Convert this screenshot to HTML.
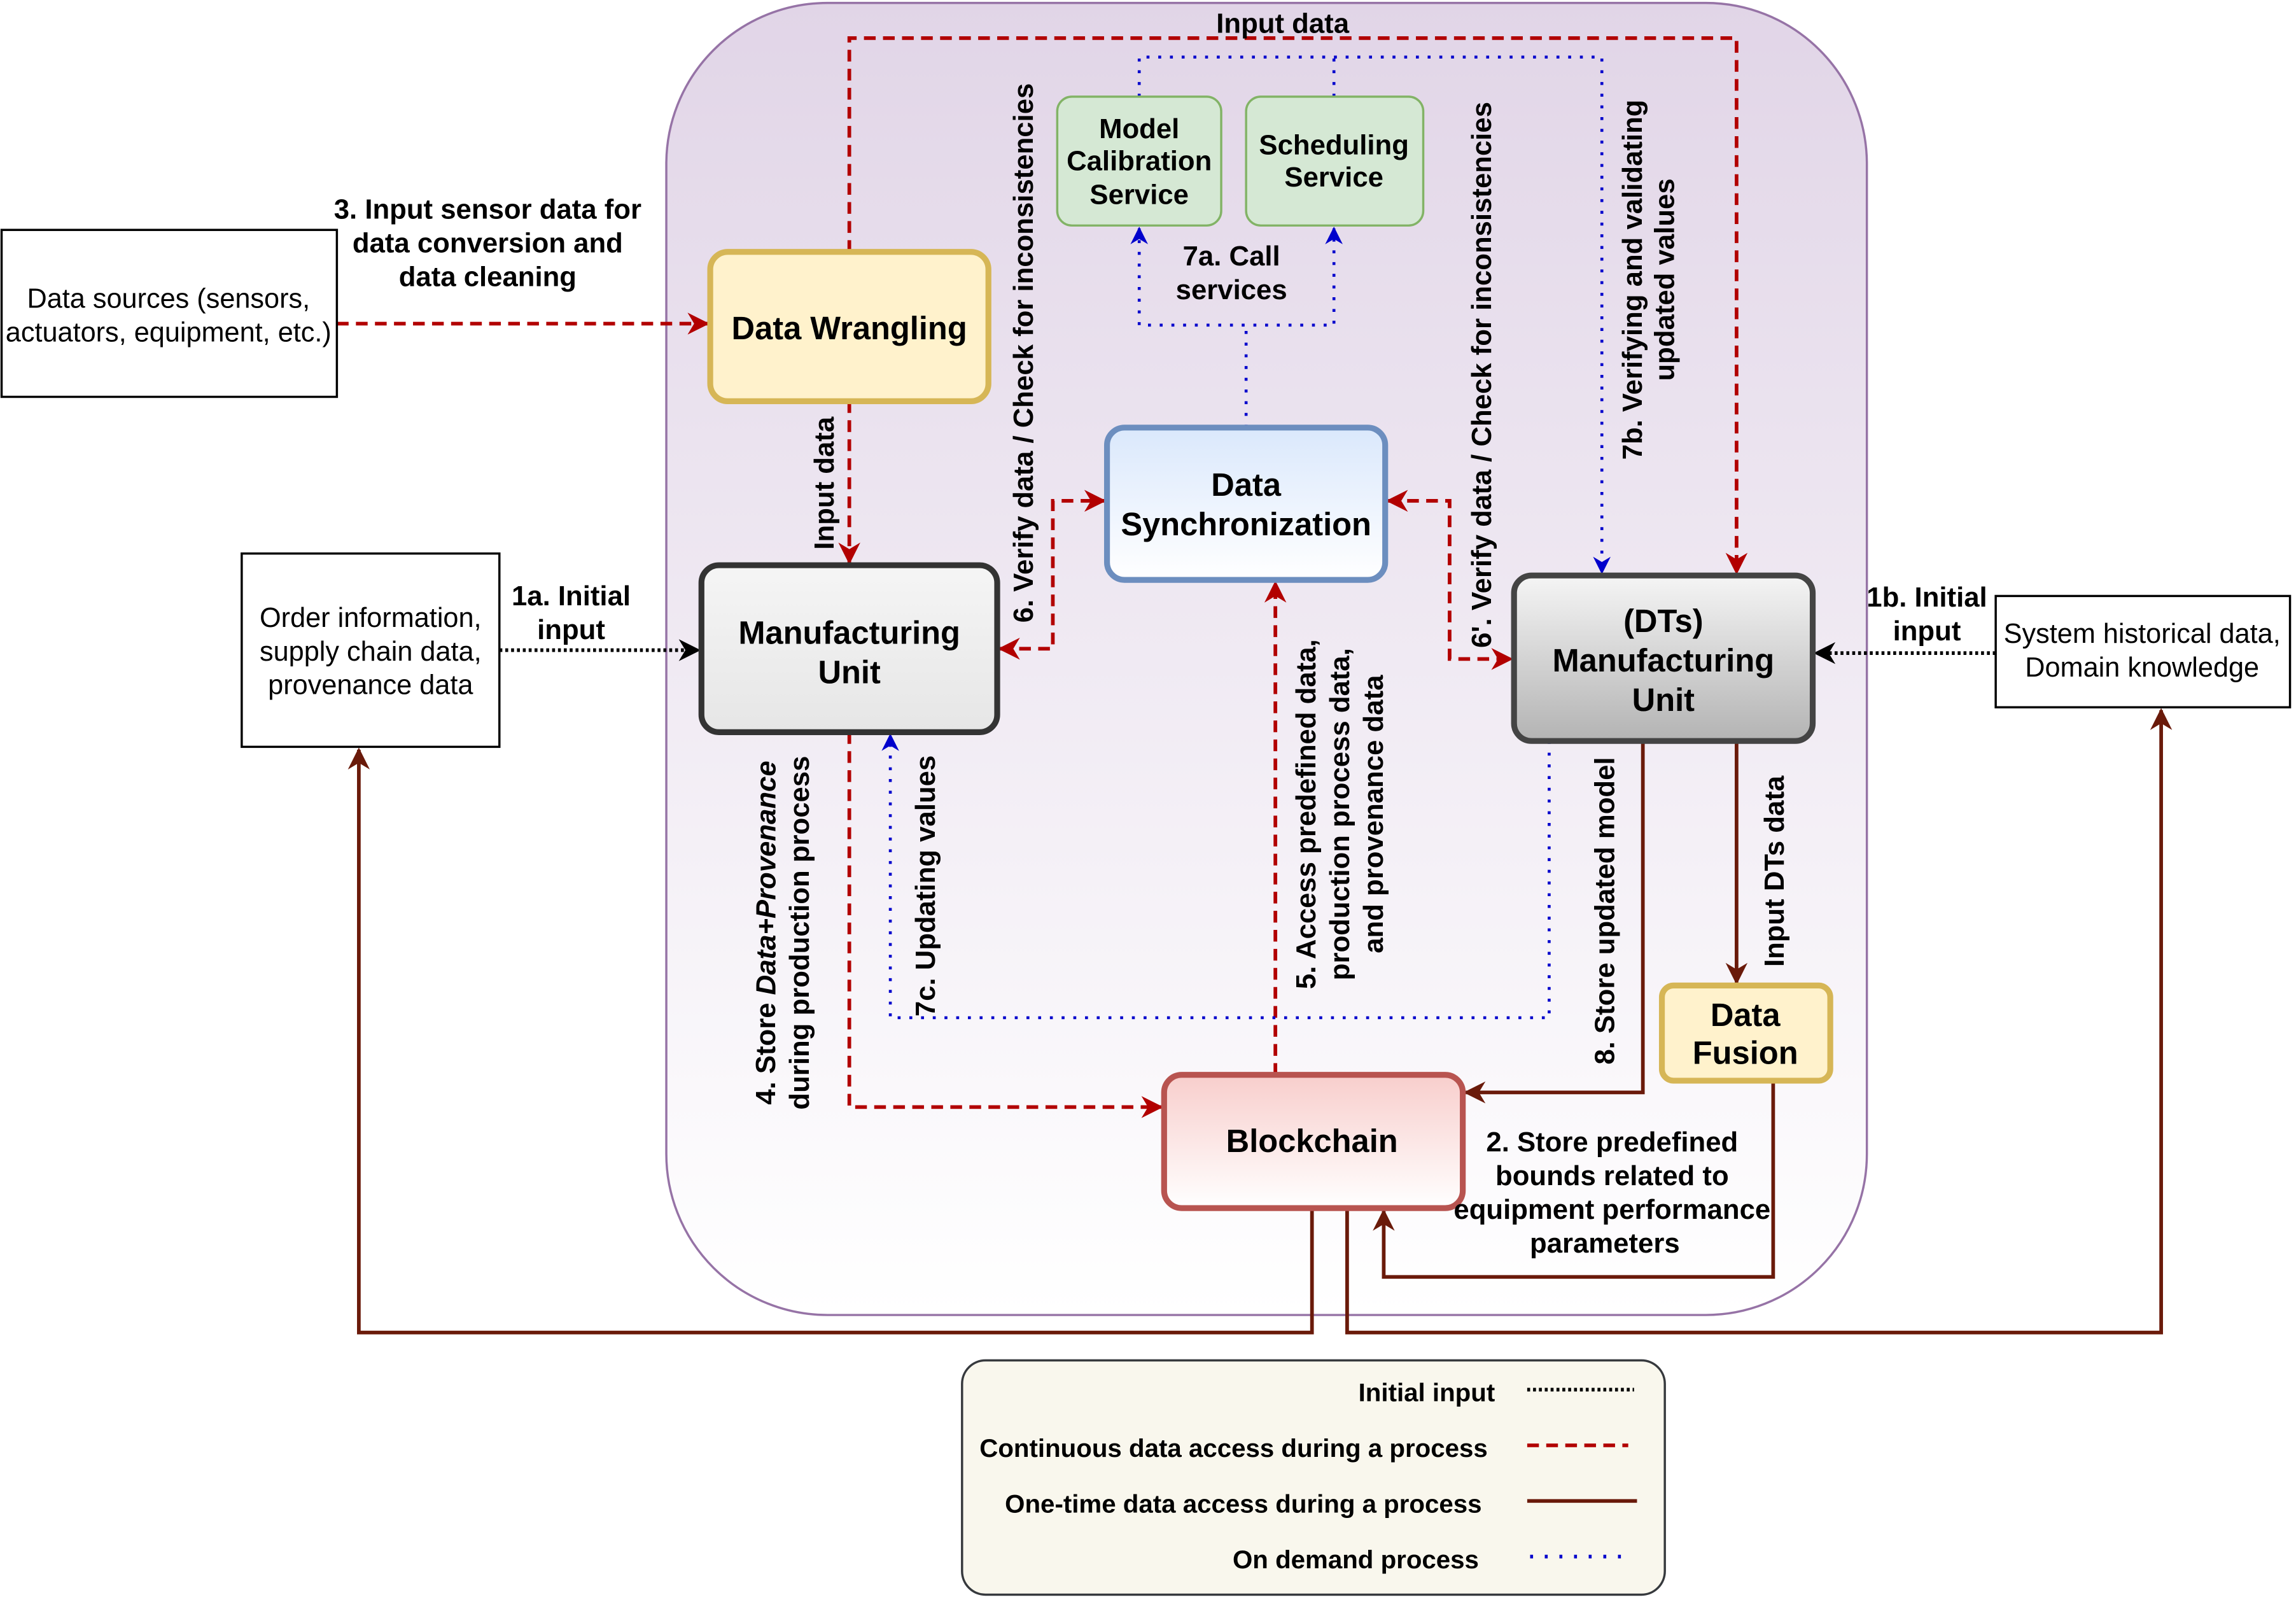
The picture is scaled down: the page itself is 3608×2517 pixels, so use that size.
<!DOCTYPE html>
<html><head><meta charset="utf-8"><style>
html,body{margin:0;padding:0;background:#fff;}
svg{display:block;}
text{font-family:"Liberation Sans",Arial,sans-serif;dominant-baseline:central;}
.lb{font-size:19px;font-weight:bold;text-anchor:middle;fill:#000;}
.tt{font-size:22px;font-weight:bold;text-anchor:middle;fill:#000;}
.nt{font-size:18.8px;text-anchor:middle;fill:#000;}
.lg{font-size:17.5px;font-weight:bold;text-anchor:end;fill:#000;}
.red{stroke:#b20000;stroke-width:2.5;stroke-dasharray:8,5;fill:none;}
.blu{stroke:#0000cc;stroke-width:2;stroke-dasharray:2,6;fill:none;}
.brn{stroke:#6a1a0a;stroke-width:2.5;fill:none;}
.blk{stroke:#000;stroke-width:2.5;stroke-dasharray:2,2;fill:none;}
</style></head><body>
<svg width="3608" height="2517" viewBox="0 0 1568 1094" xmlns="http://www.w3.org/2000/svg">
<defs>
<linearGradient id="gp" x1="0" y1="0" x2="0" y2="1"><stop offset="0" stop-color="#e1d5e7"/><stop offset="1" stop-color="#fff"/></linearGradient>
<linearGradient id="gb" x1="0" y1="0" x2="0" y2="1"><stop offset="0" stop-color="#dae8fc"/><stop offset="1" stop-color="#fff"/></linearGradient>
<linearGradient id="gr" x1="0" y1="0" x2="0" y2="1"><stop offset="0" stop-color="#f8cecc"/><stop offset="1" stop-color="#fff"/></linearGradient>
<linearGradient id="gg" x1="0" y1="0" x2="0" y2="1"><stop offset="0" stop-color="#f5f5f5"/><stop offset="1" stop-color="#b3b3b3"/></linearGradient>
<linearGradient id="gm" x1="0" y1="0" x2="0" y2="1"><stop offset="0" stop-color="#f5f5f5"/><stop offset="1" stop-color="#e6e6e6"/></linearGradient>
<marker id="ar" viewBox="0 0 10 10" refX="9" refY="5" markerWidth="6" markerHeight="6" orient="auto-start-reverse"><path d="M0,0 L10,5 L0,10 L3,5z" fill="#b20000"/></marker>
<marker id="ab" viewBox="0 0 10 10" refX="9" refY="5" markerWidth="6" markerHeight="6" orient="auto-start-reverse"><path d="M0,0 L10,5 L0,10 L3,5z" fill="#0000cc"/></marker>
<marker id="an" viewBox="0 0 10 10" refX="9" refY="5" markerWidth="6" markerHeight="6" orient="auto-start-reverse"><path d="M0,0 L10,5 L0,10 L3,5z" fill="#6a1a0a"/></marker>
<marker id="ak" viewBox="0 0 10 10" refX="9" refY="5" markerWidth="6" markerHeight="6" orient="auto-start-reverse"><path d="M0,0 L10,5 L0,10 L3,5z" fill="#000"/></marker>
</defs>
<rect x="455" y="2" width="820" height="896" rx="110" fill="url(#gp)" stroke="#9673a6" stroke-width="1.5"/>

<path class="red" d="M230,221 H483" marker-end="url(#ar)"/>
<path class="red" d="M580,172 V26 H1186 V391" marker-end="url(#ar)"/>
<path class="red" d="M580,274 V384" marker-end="url(#ar)"/>
<path class="red" d="M683,443 H719 V342 H754" marker-start="url(#ar)" marker-end="url(#ar)"/>
<path class="red" d="M948,342 H990 V450 H1032" marker-start="url(#ar)" marker-end="url(#ar)"/>
<path class="red" d="M580,500 V756 H793" marker-end="url(#ar)"/>
<path class="red" d="M871,734 V398" marker-end="url(#ar)"/>
<path class="blu" d="M778,66 V39 H1094 V391" marker-end="url(#ab)"/>
<path class="blu" d="M911,66 V39"/>
<path class="blu" d="M851,292 V222"/>
<path class="blu" d="M778,156 V222 H911 V156" marker-start="url(#ab)" marker-end="url(#ab)"/>
<path class="blu" d="M1058,506 V695 H608 V502" marker-end="url(#ab)"/>
<path class="brn" d="M1122,506 V746 H1001" marker-end="url(#an)"/>
<path class="brn" d="M1186,506 V671" marker-end="url(#an)"/>
<path class="brn" d="M1211,738 V872 H945 V827" marker-end="url(#an)"/>
<path class="brn" d="M896,825 V910 H245 V512" marker-end="url(#an)"/>
<path class="brn" d="M920,825 V910 H1476 V485" marker-end="url(#an)"/>
<path class="blk" d="M341,444 H477" marker-end="url(#ak)"/>
<path class="blk" d="M1363,446 H1240" marker-end="url(#ak)"/>

<rect x="1" y="157" width="229" height="114" fill="#fff" stroke="#000" stroke-width="1.5"/>
<text class="nt" x="115" y="204">Data sources (sensors,</text>
<text class="nt" x="115" y="227">actuators, equipment, etc.)</text>
<rect x="165" y="378" width="176" height="132" fill="#fff" stroke="#000" stroke-width="1.5"/>
<text class="nt" x="253" y="422">Order information,</text>
<text class="nt" x="253" y="445">supply chain data,</text>
<text class="nt" x="253" y="468">provenance data</text>
<rect x="1363" y="407" width="201" height="76" fill="#fff" stroke="#000" stroke-width="1.5"/>
<text class="nt" x="1463" y="433">System historical data,</text>
<text class="nt" x="1463" y="456">Domain knowledge</text>

<rect x="485" y="172" width="190" height="102" rx="12" fill="#fff2cc" stroke="#d6b656" stroke-width="4"/>
<text class="tt" x="580" y="224">Data Wrangling</text>
<rect x="479" y="386" width="202" height="114" rx="12" fill="url(#gm)" stroke="#333" stroke-width="4"/>
<text class="tt" x="580" y="432">Manufacturing</text>
<text class="tt" x="580" y="459">Unit</text>
<rect x="756" y="292" width="190" height="104" rx="12" fill="url(#gb)" stroke="#6c8ebf" stroke-width="4"/>
<text class="tt" x="851" y="331">Data</text>
<text class="tt" x="851" y="358">Synchronization</text>
<rect x="722" y="66" width="112" height="88" rx="10" fill="#d5e8d4" stroke="#82b366" stroke-width="1.5"/>
<text class="lb" x="778" y="88">Model</text>
<text class="lb" x="778" y="110">Calibration</text>
<text class="lb" x="778" y="133">Service</text>
<rect x="851" y="66" width="121" height="88" rx="10" fill="#d5e8d4" stroke="#82b366" stroke-width="1.5"/>
<text class="lb" x="911" y="99">Scheduling</text>
<text class="lb" x="911" y="121">Service</text>
<rect x="1034" y="393" width="204" height="113" rx="12" fill="url(#gg)" stroke="#444" stroke-width="4"/>
<text class="tt" x="1136" y="424">(DTs)</text>
<text class="tt" x="1136" y="451">Manufacturing</text>
<text class="tt" x="1136" y="478">Unit</text>
<rect x="1135" y="673" width="115" height="65" rx="8" fill="#fff2cc" stroke="#d6b656" stroke-width="4"/>
<text class="tt" x="1192" y="693">Data</text>
<text class="tt" x="1192" y="719">Fusion</text>
<rect x="795" y="734" width="204" height="91" rx="12" fill="url(#gr)" stroke="#b85450" stroke-width="4"/>
<text class="tt" x="896" y="779">Blockchain</text>

<text class="lb" x="333" y="143">3. Input sensor data for</text>
<text class="lb" x="333" y="166">data conversion and</text>
<text class="lb" x="333" y="189">data cleaning</text>
<text class="lb" x="876" y="16">Input data</text>
<text class="lb" transform="translate(563,330) rotate(-90)">Input data</text>
<text class="lb" transform="translate(699,241) rotate(-90)">6. Verify data / Check for inconsistencies</text>
<text class="lb" transform="translate(1012,256) rotate(-90)">6'. Verify data / Check for inconsistencies</text>
<text class="lb" transform="translate(1115,191) rotate(-90)">7b. Verifying and validating</text>
<text class="lb" transform="translate(1137,191) rotate(-90)">updated values</text>
<text class="lb" x="841" y="175">7a. Call</text>
<text class="lb" x="841" y="198">services</text>
<text class="lb" transform="translate(632,605) rotate(-90)">7c. Updating values</text>
<text class="lb" transform="translate(523,637) rotate(-90)">4. Store <tspan font-style="italic">Data+Provenance</tspan></text>
<text class="lb" transform="translate(546,637) rotate(-90)">during production process</text>
<text class="lb" transform="translate(892,556) rotate(-90)">5. Access predefined data,</text>
<text class="lb" transform="translate(915,556) rotate(-90)">production process data,</text>
<text class="lb" transform="translate(938,556) rotate(-90)">and provenance data</text>
<text class="lb" transform="translate(1096,622) rotate(-90)">8. Store updated model</text>
<text class="lb" transform="translate(1212,595) rotate(-90)">Input DTs data</text>
<text class="lb" x="1101" y="780">2. Store predefined</text>
<text class="lb" x="1101" y="803">bounds related to</text>
<text class="lb" x="1101" y="826">equipment performance</text>
<text class="lb" x="1096" y="849">parameters</text>
<text class="lb" x="390" y="407">1a. Initial</text>
<text class="lb" x="390" y="430">input</text>
<text class="lb" x="1316" y="408">1b. Initial</text>
<text class="lb" x="1316" y="431">input</text>

<rect x="657" y="929" width="480" height="160" rx="16" fill="#f9f7ed" stroke="#36393d" stroke-width="1.5"/>
<text class="lg" x="1021" y="951">Initial input</text>
<path d="M1043,949 H1116" stroke="#000" stroke-width="2.5" stroke-dasharray="2,2"/>
<text class="lg" x="1016" y="989">Continuous data access during a process</text>
<path d="M1043,987 H1112" stroke="#b20000" stroke-width="2.5" stroke-dasharray="8,5"/>
<text class="lg" x="1012" y="1027">One-time data access during a process</text>
<path d="M1043,1025 H1118" stroke="#6a1a0a" stroke-width="2.5"/>
<text class="lg" x="1010" y="1065">On demand process</text>
<path d="M1045,1063 H1110" stroke="#0000cc" stroke-width="2.5" stroke-dasharray="2,8"/>
</svg>
</body></html>
